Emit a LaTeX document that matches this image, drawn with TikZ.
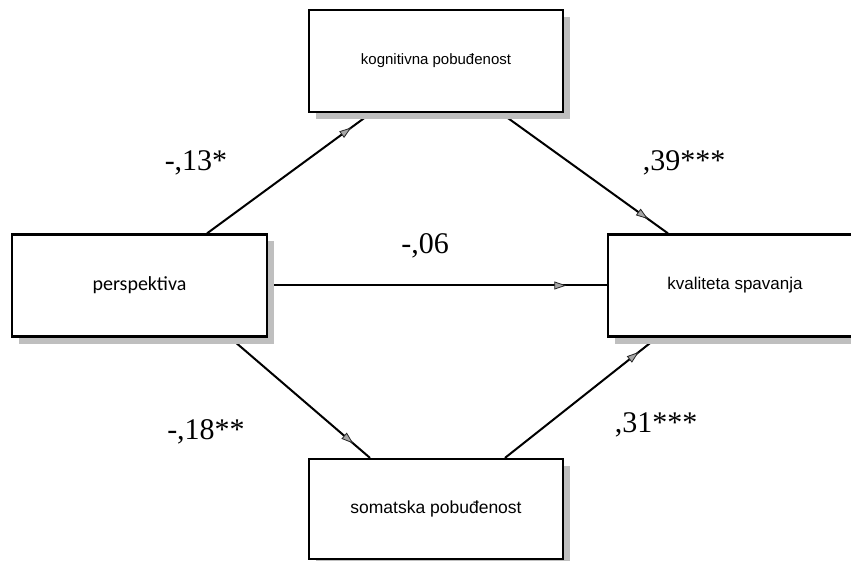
\documentclass[tikz,border=0pt]{standalone}
\usepackage{fontspec}
\setmainfont{Liberation Serif}
\setsansfont{Liberation Sans}
\newfontfamily\calibri{Carlito}
\usetikzlibrary{arrows.meta,decorations.markings,shadows,backgrounds}

\begin{document}
\begin{tikzpicture}[x=1pt,y=-1pt,
        box/.style={draw, line width=2.2pt, fill=white, inner sep=0pt,
            minimum width=254pt, minimum height=102pt,
            drop shadow={shadow xshift=7pt, shadow yshift=-7pt, fill=black!25, opacity=1}},
        link/.style={line width=2pt, postaction={decorate},
            decoration={markings, mark=at position 0.88 with {\arrow{Triangle[length=12pt,width=8pt,fill=black!35,color=black!85,line width=0.8pt]}}}},
        coef/.style={font=\fontsize{30}{34}\selectfont}]
        \useasboundingbox (0,0) rectangle (851,561);
        \clip (0,0) rectangle (851,561);

        \node[box, font=\sffamily\fontsize{15}{18}\selectfont] (kog) at (436,61) {kognitivna pobuđenost};
        \node[box, minimum width=255pt, font=\calibri\fontsize{20}{24}\selectfont] (persp) at (139.5,285.5) {perspektiva};
        \node[box, font=\sffamily\fontsize{17}{20}\selectfont] (kval) at (735,285.5) {kvaliteta spavanja};
        \node[box, minimum height=100pt, font=\sffamily\fontsize{17.5}{21}\selectfont] (som) at (436,509) {somatska pobuđenost};

        \begin{scope}[on background layer]
            \draw[link] ([xshift=67.5pt]persp.north) -- ([xshift=-65pt]kog.south);
            \draw[link] ([xshift=65pt]kog.south) -- ([xshift=-67pt]kval.north);
            \draw[link] (persp.east) -- (kval.west);
            \draw[link] ([xshift=90.5pt]persp.south) -- ([xshift=-66pt]som.north);
            \draw[link] ([xshift=69pt]som.north) -- ([xshift=-78pt]kval.south);
        \end{scope}

        \node[coef] (b1) at (196,163) {-,13*};
        \node[coef] (b2) at (684,163) {,39***};
        \node[coef] (b3) at (425,246) {-,06};
        \node[coef] (b4) at (206,432) {-,18**};
        \node[coef] (b5) at (656,425) {,31***};
    \end{tikzpicture}
\end{document}
